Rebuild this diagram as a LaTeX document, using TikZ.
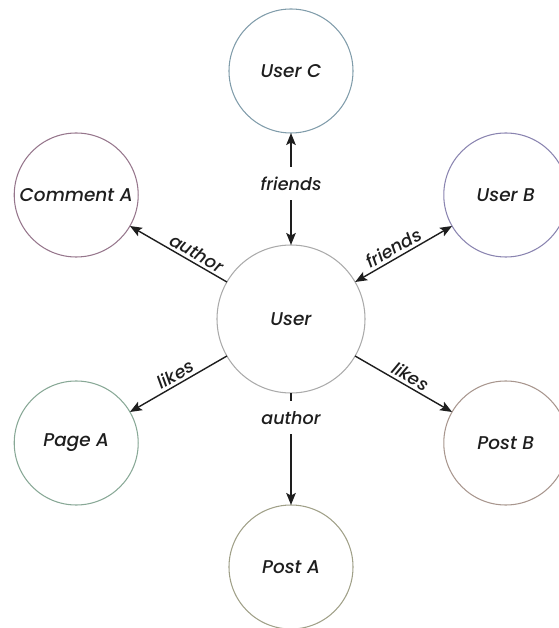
\documentclass[tikz,border=0pt]{standalone}
\usepackage{fontspec}
\setmainfont{Poppins}[ItalicFont={Poppins Medium Italic}]
\usepackage{tikz}
\usetikzlibrary{arrows.meta}
\definecolor{ringhub}{RGB}{170,170,170}
\definecolor{ringuc}{RGB}{128,156,170}
\definecolor{ringca}{RGB}{150,118,140}
\definecolor{ringub}{RGB}{138,132,176}
\definecolor{ringpa}{RGB}{136,168,150}
\definecolor{ringpb}{RGB}{168,150,142}
\definecolor{ringpo}{RGB}{160,160,136}
\definecolor{inkt}{RGB}{30,30,30}
\tikzset{
  hub/.style={circle, draw=ringhub, line width=0.6pt, minimum size=2.96cm, inner sep=0pt, outer sep=0pt,
    font=\fontsize{10.5}{12}\selectfont\itshape, text=inkt},
  leaf/.style={circle, line width=0.6pt, minimum size=2.48cm, inner sep=0pt, outer sep=0pt,
    font=\fontsize{10.5}{12}\selectfont\itshape, text=inkt},
  arr/.style={-{Stealth[length=2.4mm, width=1.9mm, inset=0.5mm]}, line width=0.8pt, inkt},
  dbl/.style={{Stealth[length=2.4mm, width=1.9mm, inset=0.5mm]}-{Stealth[length=2.4mm, width=1.9mm, inset=0.5mm]}, line width=0.8pt, inkt},
  lbl/.style={font=\fontsize{10}{12}\selectfont\itshape, text=inkt, inner sep=1.5pt},
  lblgap/.style={font=\fontsize{10}{12}\selectfont\itshape, text=inkt, fill=white, inner xsep=2pt, inner ysep=5.5pt},
}
\begin{document}
\begin{tikzpicture}[x=1cm,y=1cm]
\useasboundingbox (-5.82,-6.18) rectangle (5.36,6.38);
% centre and the six around it
\node[hub] (user) at (0,0) {User};
\node[leaf, draw=ringuc] (userc) at (90:4.96) {User C};
\node[leaf, draw=ringub] (userb) at (30:4.96) {User B};
\node[leaf, draw=ringca] (comma) at (150:4.96) {Comment A};
\node[leaf, draw=ringpa] (pagea) at (210:4.96) {Page A};
\node[leaf, draw=ringpb] (postb) at (330:4.96) {Post B};
\node[leaf, draw=ringpo] (posta) at (270:4.96) {Post A};
% relations
\draw[dbl] (user) -- node[lblgap, pos=0.55] {friends} (userc);
\draw[dbl] (user) -- node[lbl, sloped, above, pos=0.45] {friends} (userb);
\draw[arr] (user) -- node[lbl, sloped, above, pos=0.36] {author} (comma);
\draw[arr] (user) -- node[lbl, sloped, above, pos=0.48] {likes} (pagea);
\draw[arr] (user) -- node[lbl, sloped, above, pos=0.52] {likes} (postb);
\draw[arr] (user) -- node[lblgap, pos=0.22] {author} (posta);
\end{tikzpicture}
\end{document}
